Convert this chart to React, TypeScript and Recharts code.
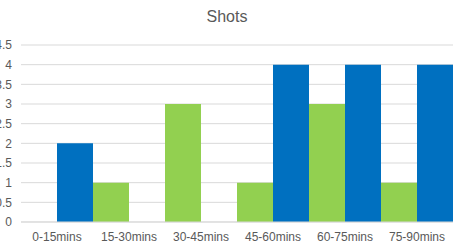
import React from 'react';
import { BarChart, Bar, XAxis, YAxis, CartesianGrid } from 'recharts';

const periods = ['0-15mins', '15-30mins', '30-45mins', '45-60mins', '60-75mins', '75-90mins'];
const homeShots = [0, 1, 3, 1, 3, 1];
const awayShots = [2, 0, 0, 4, 4, 4];
const yTicks = [0, 0.5, 1, 1.5, 2, 2.5, 3, 3.5, 4, 4.5];

const data = periods.map((p, i) => ({ period: p, home: homeShots[i], away: awayShots[i] }));

const font = '"Liberation Sans", Arial, sans-serif';

const App: React.FC = () => {
  return (
    <div style={{ position: 'absolute', left: 0, top: 0, width: 454, height: 247, background: '#fff', fontFamily: font }}>
      <div
        style={{
          position: 'absolute',
          top: 8,
          left: 0,
          width: 454,
          textAlign: 'center',
          fontSize: 16,
          color: '#595959',
        }}
      >
        Shots
      </div>
      <BarChart
        width={454}
        height={247}
        data={data}
        margin={{ top: 45, right: 1, left: 0, bottom: 0 }}
        barCategoryGap={0}
        barGap={0}
      >
        <CartesianGrid vertical={false} stroke="#D9D9D9" />
        <XAxis
          dataKey="period"
          height={25}
          tickLine={false}
          tickSize={0}
          tickMargin={10}
          axisLine={{ stroke: '#D9D9D9' }}
          tick={{ fill: '#595959', fontSize: 12, fontFamily: font }}
          interval={0}
        />
        <YAxis
          width={21}
          domain={[0, 4.5]}
          ticks={yTicks}
          interval={0}
          axisLine={false}
          tickLine={false}
          tickSize={0}
          tickMargin={9}
          tick={{ fill: '#595959', fontSize: 12, fontFamily: font }}
        />
        <Bar dataKey="home" fill="#92D050" isAnimationActive={false} />
        <Bar dataKey="away" fill="#0070C0" isAnimationActive={false} />
      </BarChart>
    </div>
  );
};

export default App;
